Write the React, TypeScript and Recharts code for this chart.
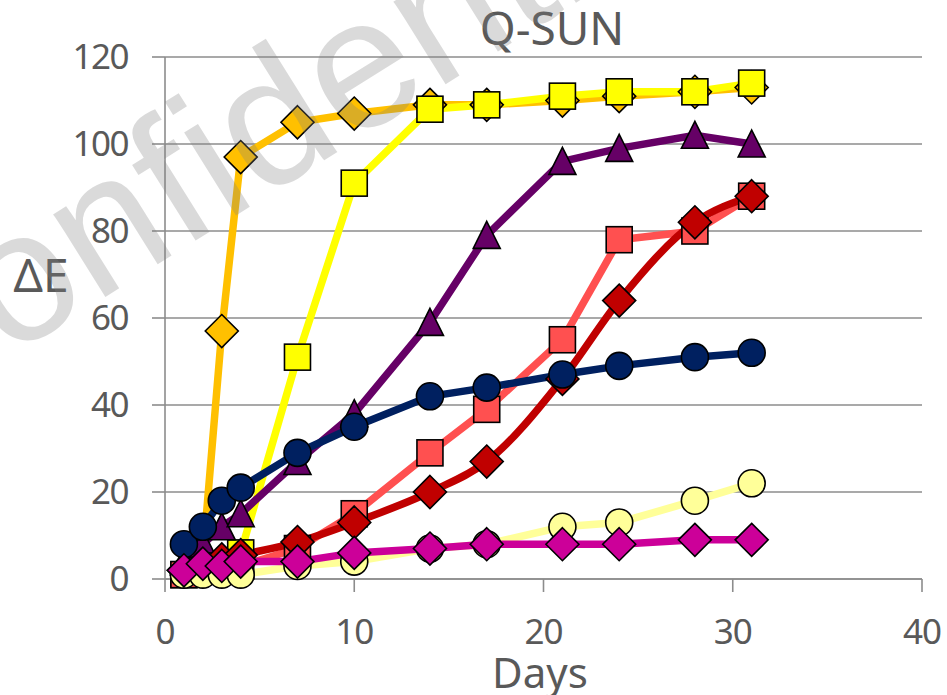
import { CartesianGrid, Line, LineChart, XAxis, YAxis } from "recharts";

// sampling days (x)
const days = [1, 2, 3, 4, 7, 10, 14, 17, 21, 24, 28, 31];

// ΔE per series
const goldDiamond = [2, 5, 57, 97, 105, 107, 109, 109, 110, 111, 112, 113];
const yellowSquare = [1, 2, 3, 6, 51, 91, 108, 109, 111, 112, 112, 114];
const purpleTriangle = [4, 8, 12, 15, 27, 38, 59, 79, 96, 99, 102, 100];
const salmonSquare = [1, 2, 3, 3, 7, 15, 29, 39, 55, 78, 80, 88];
const redDiamond = [2, 3.5, 4.5, 5.5, 8.5, 13, 20, 27, 46, 64, 82, 88];
const navyCircle = [8, 12, 18, 21, 29, 35, 42, 44, 47, 49, 51, 52];
const paleCircle = [1, 1, 1, 1, 3, 4, 7, 8, 12, 13, 18, 22];
const magentaDiamond = [2, 3.5, 3, 4, 4, 6, 7, 8, 8, 8, 9, 9];

const xTicks = [0, 10, 20, 30, 40];
const yTicks = [0, 20, 40, 60, 80, 100, 120];

type Shape = "diamond" | "square" | "triangle" | "circle";

const series: { key: string; values: number[]; color: string; shape: Shape; smooth?: boolean }[] = [
  { key: "gold", values: goldDiamond, color: "#FFC000", shape: "diamond" },
  { key: "yellow", values: yellowSquare, color: "#FFFF00", shape: "square" },
  { key: "purple", values: purpleTriangle, color: "#660066", shape: "triangle" },
  { key: "salmon", values: salmonSquare, color: "#FF5050", shape: "square" },
  { key: "red", values: redDiamond, color: "#C00000", shape: "diamond", smooth: true },
  { key: "navy", values: navyCircle, color: "#002060", shape: "circle" },
  { key: "pale", values: paleCircle, color: "#FFFF99", shape: "circle" },
  { key: "magenta", values: magentaDiamond, color: "#CC0099", shape: "diamond" },
];

const data = days.map((day, i) => {
  const row: Record<string, number> = { day };
  series.forEach((s) => (row[s.key] = s.values[i]));
  return row;
});

const TEXT = "#595959";
const GRID = "#8c8c8c";
const FONT = "'Segoe UI', 'Noto Sans', sans-serif";

function makeDot(shape: Shape, fill: string, name: string) {
  return (props: any) => {
    const { cx, cy, index } = props;
    const k = `${name}-${index}`;
    if (cx == null || cy == null) return <g key={k} />;
    const common = { fill, stroke: "#000", strokeWidth: 1.6 };
    if (shape === "diamond") {
      const r = 16.5;
      return <polygon key={k} points={`${cx},${cy - r} ${cx + r},${cy} ${cx},${cy + r} ${cx - r},${cy}`} {...common} />;
    }
    if (shape === "square") {
      return <rect key={k} x={cx - 13} y={cy - 13} width={26} height={26} {...common} />;
    }
    if (shape === "triangle") {
      return <polygon key={k} points={`${cx},${cy - 14} ${cx + 13.5},${cy + 13} ${cx - 13.5},${cy + 13}`} {...common} />;
    }
    return <circle key={k} cx={cx} cy={cy} r={13.5} {...common} />;
  };
}

export default function App() {
  return (
    <div style={{ position: "absolute", left: 0, top: 0, width: 947, height: 695, background: "#fff" }}>
      <LineChart width={947} height={695} data={data} margin={{ top: 57, right: 25, bottom: 56, left: 65 }}>
        <CartesianGrid vertical={false} stroke={GRID} strokeWidth={1.6} />
        <XAxis
          dataKey="day"
          type="number"
          domain={[0, 40]}
          ticks={xTicks}
          height={60}
          stroke={GRID}
          strokeWidth={1.6}
          tickSize={13}
          tickMargin={27}
          tick={{ fill: TEXT, fontSize: 35, fontFamily: FONT, letterSpacing: -1 }}
        />
        <YAxis
          type="number"
          domain={[0, 120]}
          ticks={yTicks}
          width={100}
          stroke={GRID}
          strokeWidth={1.6}
          tickSize={13}
          tickMargin={24}
          tick={{ fill: TEXT, fontSize: 35, fontFamily: FONT, letterSpacing: -1.5 }}
        />
        {series.map((s) => (
          <Line
            key={s.key}
            dataKey={s.key}
            type={s.smooth ? "monotone" : "linear"}
            stroke={s.color}
            strokeWidth={7.5}
            dot={makeDot(s.shape, s.color, s.key)}
            activeDot={false}
            isAnimationActive={false}
          />
        ))}
      </LineChart>
      <svg
        width={947}
        height={695}
        style={{ position: "absolute", left: 0, top: 0, pointerEvents: "none" }}
      >
        <text x={552} y={45} textAnchor="middle" fontSize={46} fill={TEXT} fontFamily={FONT}>
          Q-SUN
        </text>
        <text x={41} y={292} textAnchor="middle" fontSize={46} fill={TEXT} fontFamily={FONT}>
          ΔE
        </text>
        <text x={540} y={688} textAnchor="middle" fontSize={42} fill={TEXT} fontFamily={FONT}>
          Days
        </text>
        <text
          transform="translate(-106,429) rotate(-32)"
          fontSize={185}
          fontFamily="'Liberation Sans', Arial, sans-serif"
          fill="#808080"
          fillOpacity={0.29}
        >
          Confidential
        </text>
      </svg>
    </div>
  );
}
